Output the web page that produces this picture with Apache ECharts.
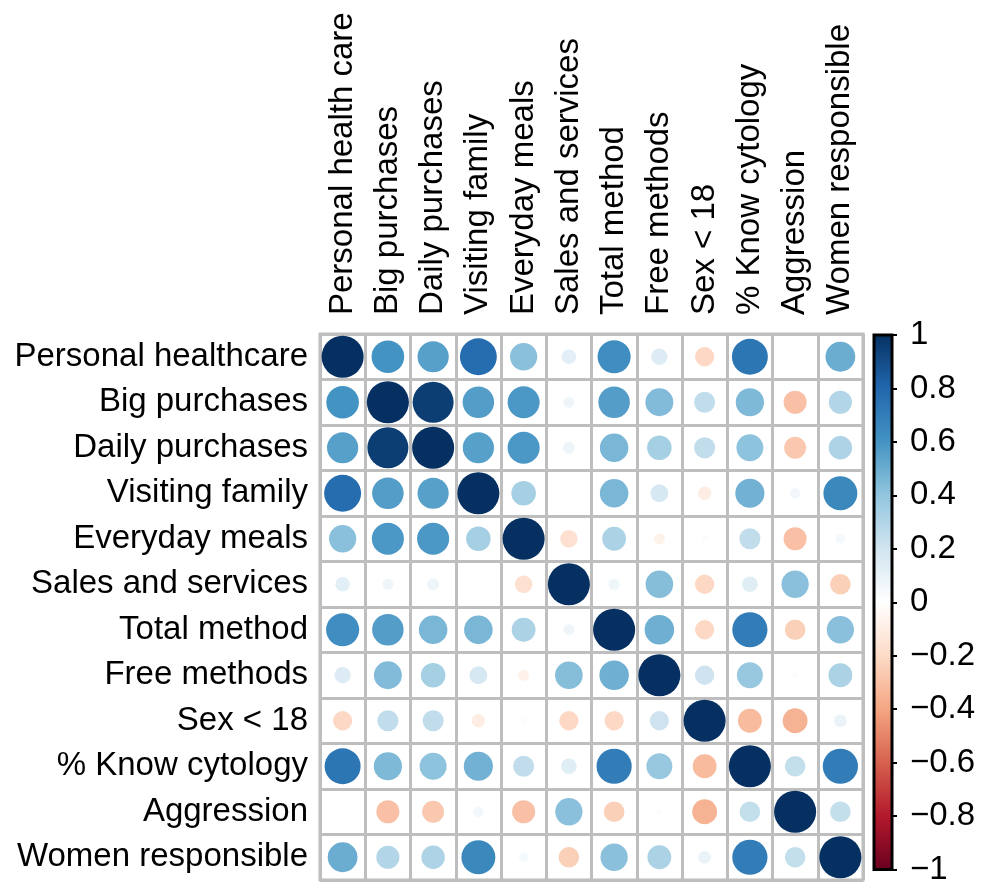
<!DOCTYPE html>
<html>
<head>
<meta charset="utf-8">
<title>Correlation matrix</title>
<script src="https://cdn.jsdelivr.net/npm/echarts@6/dist/echarts.min.js"></script>
<style>
  html, body { margin: 0; padding: 0; background: #ffffff; }
  #chart { width: 988px; height: 886px; }
</style>
</head>
<body>
<div id="chart"></div>
<script>
// Variable names along the top (columns) and down the side (rows)
const colLabels = [
  'Personal health care', 'Big purchases', 'Daily purchases', 'Visiting family',
  'Everyday meals', 'Sales and services', 'Total method', 'Free methods',
  'Sex < 18', '% Know cytology', 'Aggression', 'Women responsible'
];
const rowLabels = [
  'Personal healthcare', 'Big purchases', 'Daily purchases', 'Visiting family',
  'Everyday meals', 'Sales and services', 'Total method', 'Free methods',
  'Sex < 18', '% Know cytology', 'Aggression', 'Women responsible'
];

// Pairwise correlation coefficients, one array per row
const rPersonalHealthcare = [1.00, 0.60, 0.55, 0.77, 0.42, 0.12, 0.62, 0.15, -0.21, 0.73, 0.01, 0.50];
const rBigPurchases       = [0.60, 1.00, 0.95, 0.56, 0.58, 0.07, 0.56, 0.44, 0.25, 0.45, -0.30, 0.30];
const rDailyPurchases     = [0.55, 0.95, 1.00, 0.55, 0.58, 0.08, 0.46, 0.34, 0.25, 0.41, -0.27, 0.31];
const rVisitingFamily     = [0.77, 0.56, 0.55, 1.00, 0.34, 0.01, 0.46, 0.18, -0.10, 0.48, 0.06, 0.65];
const rEverydayMeals      = [0.42, 0.58, 0.58, 0.34, 1.00, -0.17, 0.32, -0.07, 0.02, 0.25, -0.30, 0.05];
const rSalesServices      = [0.12, 0.07, 0.08, 0.01, -0.17, 1.00, 0.07, 0.43, -0.21, 0.14, 0.42, -0.24];
const rTotalMethod        = [0.62, 0.56, 0.46, 0.46, 0.32, 0.07, 1.00, 0.49, -0.21, 0.70, -0.24, 0.42];
const rFreeMethods        = [0.15, 0.44, 0.34, 0.18, -0.07, 0.43, 0.49, 1.00, 0.21, 0.38, 0.02, 0.32];
const rSexUnder18         = [-0.21, 0.25, 0.25, -0.10, 0.02, -0.21, -0.21, 0.21, 1.00, -0.32, -0.35, 0.09];
const rKnowCytology       = [0.73, 0.45, 0.41, 0.48, 0.25, 0.14, 0.70, 0.38, -0.32, 1.00, 0.24, 0.70];
const rAggression         = [0.01, -0.30, -0.27, 0.06, -0.30, 0.42, -0.24, 0.02, -0.35, 0.24, 1.00, 0.24];
const rWomenResponsible   = [0.50, 0.30, 0.31, 0.65, 0.05, -0.24, 0.42, 0.32, 0.09, 0.70, 0.24, 1.00];

const corrRows = [
  rPersonalHealthcare, rBigPurchases, rDailyPurchases, rVisitingFamily,
  rEverydayMeals, rSalesServices, rTotalMethod, rFreeMethods,
  rSexUnder18, rKnowCytology, rAggression, rWomenResponsible
];

// Colour bar ticks
const legendMin = -1;
const legendMax = 1;
const legendStep = 0.2;

// Diverging red-blue palette, from -1 to 1
const palette = [
  '#67001F', '#B2182B', '#D6604D', '#F4A582', '#FDDBC7', '#FFFFFF',
  '#D1E5F0', '#92C5DE', '#4393C3', '#2166AC', '#053061'
];

const font = 'Liberation Sans, Arial, Helvetica, sans-serif';

const grid = { left: 320, top: 334, width: 543, height: 546 };
const cellW = grid.width / colLabels.length;
const cellH = grid.height / rowLabels.length;
const cell = Math.min(cellW, cellH);

const points = [];
corrRows.forEach((row, ri) => {
  row.forEach((v, ci) => points.push([ci, ri, v]));
});

const chart = echarts.init(document.getElementById('chart'), null, { renderer: 'canvas' });

// Gradient fill for the colour bar, top = +1, bottom = -1
const barGradient = new echarts.graphic.LinearGradient(0, 0, 0, 1,
  palette.slice().reverse().map((c, i) => ({ offset: i / (palette.length - 1), color: c }))
);

chart.setOption({
  backgroundColor: '#ffffff',
  animation: false,
  textStyle: { fontFamily: font },
  grid: [
    {
      left: grid.left, top: grid.top, width: grid.width, height: grid.height,
      show: true, borderColor: '#bebebe', borderWidth: 3, backgroundColor: '#ffffff'
    },
    {
      left: 874, top: 335, width: 18, height: 543,
      show: true, borderColor: '#000000', borderWidth: 3, backgroundColor: barGradient
    }
  ],
  xAxis: [
    {
      gridIndex: 0, type: 'category', data: colLabels, position: 'top',
      axisLine: { show: false }, axisTick: { show: false },
      axisLabel: { rotate: -90, fontSize: 33, color: '#000000', margin: 19, fontFamily: font, interval: 0 },
      splitLine: { show: true, interval: 0, lineStyle: { color: '#bebebe', width: 3 } }
    },
    {
      gridIndex: 1, type: 'category', data: [''], show: false
    }
  ],
  yAxis: [
    {
      gridIndex: 0, type: 'category', data: rowLabels, inverse: true,
      axisLine: { show: false }, axisTick: { show: false },
      axisLabel: { fontSize: 33, color: '#000000', margin: 12, fontFamily: font, interval: 0 },
      splitLine: { show: true, interval: 0, lineStyle: { color: '#bebebe', width: 3 } }
    },
    {
      gridIndex: 1, type: 'value', position: 'right',
      min: legendMin, max: legendMax, interval: legendStep,
      axisLine: { show: false },
      axisTick: { show: true, length: 5, inside: false, lineStyle: { color: '#000000', width: 2 } },
      splitLine: { show: false },
      axisLabel: {
        fontSize: 33, color: '#000000', margin: 18, fontFamily: font,
        formatter: v => String(Math.round(v * 10) / 10).replace('-', '\u2212')
      }
    }
  ],
  visualMap: {
    show: false, type: 'continuous', seriesIndex: 0, dimension: 2,
    min: legendMin, max: legendMax, inRange: { color: palette }
  },
  series: [
    {
      type: 'scatter', xAxisIndex: 0, yAxisIndex: 0,
      data: points,
      symbol: 'circle',
      symbolSize: d => 0.93 * cell * Math.sqrt(Math.abs(d[2])),
      itemStyle: { opacity: 1 },
      emphasis: { disabled: true },
      z: 3
    }
  ]
});
</script>
</body>
</html>
